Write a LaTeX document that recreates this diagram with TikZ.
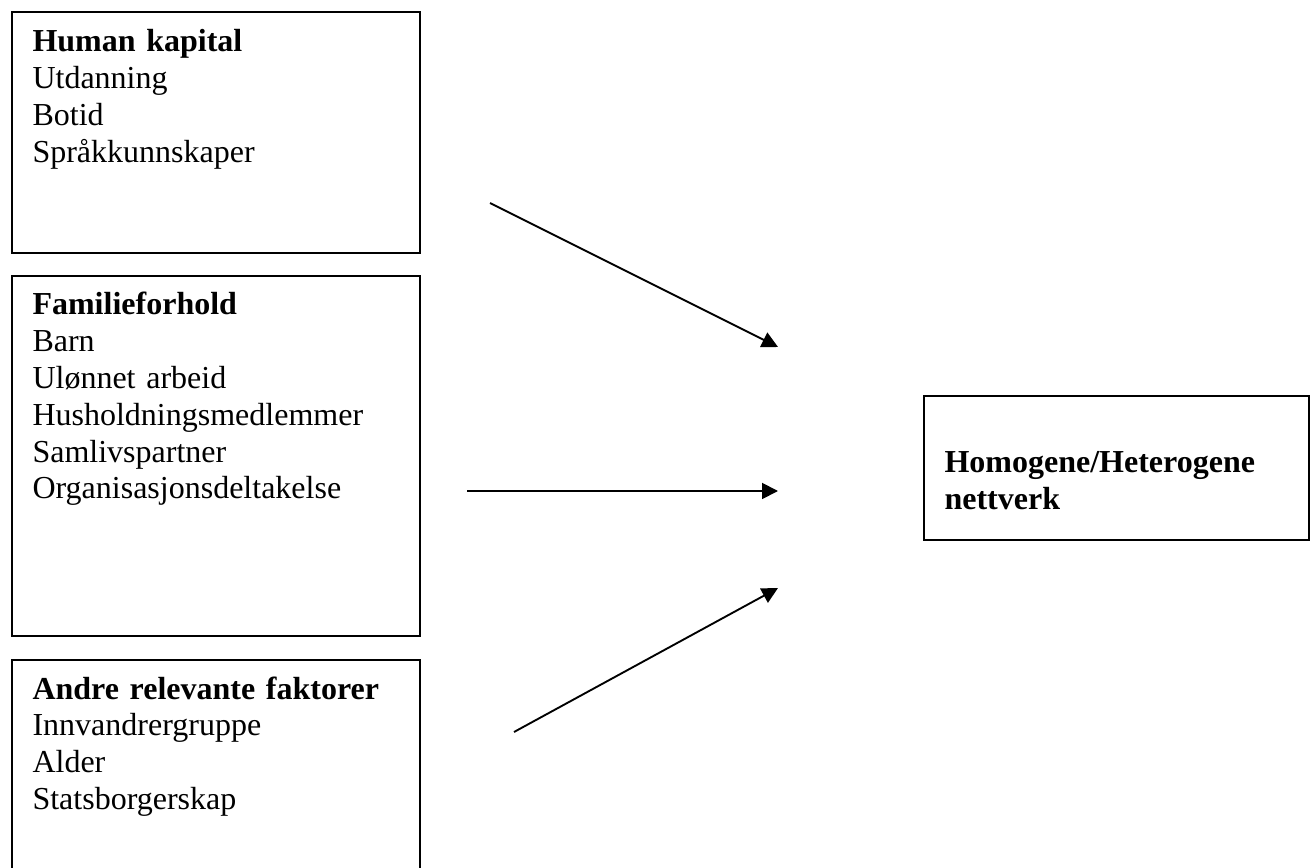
\documentclass[tikz,border=0pt]{standalone}
\usepackage{fontspec}
\setmainfont{Liberation Serif}
\usetikzlibrary{calc,arrows.meta}

\begin{document}
\begin{tikzpicture}[x=0.375pt,y=-0.375pt,
    factorbox/.style={draw,line width=0.6pt,minimum width=153pt,anchor=north west,inner sep=0pt},
    boxtext/.style={anchor=base west,inner sep=0pt,text width=150pt,align=left,
        font=\fontsize{12}{13.8}\selectfont},
    effect/.style={line width=0.7pt,-{Triangle[length=6pt,width=6pt]}}]
    % Fix the frame and cut off the lowest box
    \clip (0,0) rectangle (1312,868);

    % Draw the three boxes on the left
    \node[factorbox,minimum height=90.4pt] (human) at (11,11) {};
    \node[factorbox,minimum height=135pt] (familie) at (11,275) {};
    \node[factorbox,minimum height=95pt] (andre) at (11,659) {};

    % Draw the box on the right
    \node[factorbox,minimum width=144.4pt,minimum height=54pt] (nettverk) at (923,395) {};

    % Put the texts in the boxes
    \node[boxtext] (humantxt) at ($(human.north west)+(21,41)$)
        {\textbf{Human kapital}\\Utdanning\\Botid\\Språkkunnskaper};
    \node[boxtext] (familietxt) at ($(familie.north west)+(21,40)$)
        {\textbf{Familieforhold}\\Barn\\Ulønnet arbeid\\Husholdningsmedlemmer\\Samlivspartner\\Organisasjonsdeltakelse};
    \node[boxtext] (andretxt) at ($(andre.north west)+(21,40)$)
        {\textbf{Andre relevante faktorer}\\Innvandrergruppe\\Alder\\Statsborgerskap};
    \node[boxtext,text width=135pt] (nettverktxt) at ($(nettverk.north west)+(21,78)$)
        {\textbf{Homogene/Heterogene}\\\textbf{nettverk}};

    % Ends of the arrows
    \coordinate (humanfrom) at (490,203);
    \coordinate (humanto) at (778,347);
    \coordinate (familiefrom) at (467,491);
    \coordinate (familieto) at (778,491);
    \coordinate (andrefrom) at (514,732);
    \coordinate (andreto) at (778,588);

    % Draw the arrows
    \draw[effect] (humanfrom) -- (humanto);
    \draw[effect] (familiefrom) -- (familieto);
    \draw[effect] (andrefrom) -- (andreto);
\end{tikzpicture}
\end{document}
